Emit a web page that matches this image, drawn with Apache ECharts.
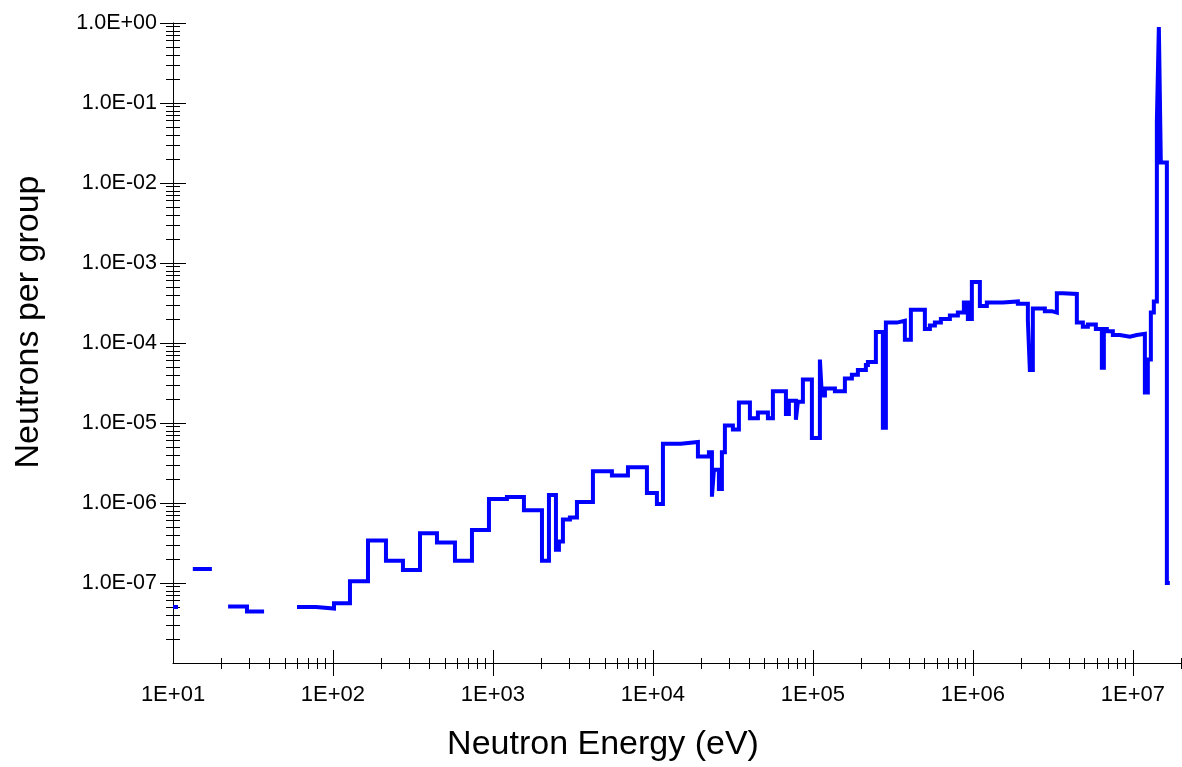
<!DOCTYPE html>
<html><head><meta charset="utf-8">
<script src="https://cdn.jsdelivr.net/npm/echarts@6/dist/echarts.min.js"></script>
<style>html,body{margin:0;padding:0;background:#fff}#chart{width:1182px;height:767px}</style>
</head><body><div id="chart"></div>
<script>
// Group boundaries (eV)
const energyBounds = [10, 10.75, 13.3, 17.5, 22.1, 29.0, 37.1, 59.6, 78.3, 101.5, 127.7, 165.5, 214.4, 273.8, 349.9, 446.7, 578.8, 739.3, 944, 1223, 1562, 2025, 2239, 2476, 2585, 2738, 3028, 3350, 4217, 5543, 6980, 9173, 10590, 11550, 14960, 19110, 22390, 23380, 24060, 25850, 26990, 28180, 31620, 34470, 40390, 45320, 52330, 56230, 67830, 70790, 78300, 80580, 86600, 98570, 110600, 113800, 118900, 137300, 158500, 175300, 191100, 214400, 220700, 247600, 273800, 285900, 335000, 375800, 409700, 501200, 538600, 578800, 631000, 718200, 805800, 878600, 930600, 985700, 1.106e6, 1.223e6, 1.540e6, 1.911e6, 2.207e6, 2.271e6, 2.371e6, 2.818e6, 3.117e6, 3.350e6, 3.652e6, 4.467e6, 4.870e6, 5.233e6, 5.871e6, 6.402e6, 6.589e6, 6.879e6, 7.499e6, 8.294e6, 9.578e6, 1.059e7, 1.189e7, 1.241e7, 1.296e7, 1.353e7, 1.413e7, 1.454e7, 1.496e7, 1.632e7, 1.703e7];
// Neutrons per group (null = empty group)
const neutronsPerGroup = [5.0e-8, null, 1.5e-7, null, 5.1e-8, 4.4e-8, null, 5.0e-8, 4.8e-8, 5.6e-8,
  1.05e-7, 3.4e-7, 1.9e-7, 1.45e-7, 4.2e-7, 3.2e-7, 1.9e-7, 4.6e-7, 1.12e-6, 1.19e-6,
  8.1e-7, 1.9e-7, 1.26e-6, 2.6e-7, 3.3e-7, 6.2e-7, 6.6e-7, 1.03e-6, 2.5e-6, 2.2e-6,
  2.8e-6, 1.33e-6, 9.7e-7, 5.5e-6, 5.8e-6, 3.8e-6, 4.3e-6, 1.2e-6, 2.6e-6, 1.5e-6,
  4.3e-6, 9.3e-6, 8.3e-6, 1.8e-5, 1.15e-5, 1.35e-5, 1.15e-5, 2.5e-5, 1.3e-5, 1.9e-5,
  1.1e-5, 1.85e-5, 3.5e-5, 6.5e-6, 6.2e-5, 2.2e-5, 2.7e-5, 2.5e-5, 3.6e-5, 4.0e-5,
  4.6e-5, 5.3e-5, 5.8e-5, 1.37e-4, 8.7e-6, 1.8e-4, 1.9e-4, 1.1e-4, 2.6e-4, 1.5e-4,
  1.65e-4, 1.8e-4, 2.0e-4, 2.2e-4, 2.4e-4, 3.2e-4, 2.0e-4, 5.8e-4, 2.9e-4, 3.2e-4,
  3.3e-4, 3.1e-4, 1.9e-4, 4.6e-5, 2.7e-4, 2.5e-4, 2.4e-4, 4.2e-4, 4.1e-4, 1.8e-4,
  1.6e-4, 1.7e-4, 1.5e-4, 4.9e-5, 1.5e-4, 1.4e-4, 1.26e-4, 1.2e-4, 1.26e-4, 1.3e-4,
  2.4e-5, 6.2e-5, 2.4e-4, 3.3e-4, 0.058, 0.89, 0.018, 1.0e-7];

// Tick / label values
const xLabelValues = [1e1, 1e2, 1e3, 1e4, 1e5, 1e6, 1e7];
const xMajorTicks = [1e2, 1e3, 1e4, 1e5, 1e6, 1e7];
const yLabelValues = [1e-7, 1e-6, 1e-5, 1e-4, 1e-3, 1e-2, 1e-1, 1e0];
const mantissas = [2, 3, 4, 5, 6, 7, 8, 9];
const xDecades = [1e1, 1e2, 1e3, 1e4, 1e5, 1e6];
const yDecades = [1e-8, 1e-7, 1e-6, 1e-5, 1e-4, 1e-3, 1e-2, 1e-1];

const xMinor = [];
xDecades.forEach(d => mantissas.forEach(m => xMinor.push(m * d)));
xMinor.push(2e7);
const yMinor = [];
yDecades.forEach(d => mantissas.forEach(m => yMinor.push(m * d)));

const seriesData = [];
for (let i = 0; i < neutronsPerGroup.length; i++) {
  const v = neutronsPerGroup[i];
  if (v == null) { seriesData.push([energyBounds[i], '-']); continue; }
  seriesData.push([energyBounds[i], v], [energyBounds[i + 1], v]);
}

function expStr(v) {
  const e = Math.round(Math.log10(v));
  return (e < 0 ? '-' : '+') + String(Math.abs(e)).padStart(2, '0');
}

const FONT = 'Liberation Sans, Arial, sans-serif';
const X_MIN = 10, X_MAX = 2e7, Y_MIN = 1e-8, Y_MAX = 1;

function baseX(extra) {
  return Object.assign({
    type: 'log', logBase: 10, min: X_MIN, max: X_MAX, position: 'bottom',
    axisLine: { show: false }, axisLabel: { show: false }, splitLine: { show: false },
    axisTick: { show: false }
  }, extra);
}
function baseY(extra) {
  return Object.assign({
    type: 'log', logBase: 10, min: Y_MIN, max: Y_MAX, position: 'left',
    axisLine: { show: false }, axisLabel: { show: false }, splitLine: { show: false },
    axisTick: { show: false }
  }, extra);
}
const tickStyle = { color: '#000', width: 1 };

const chart = echarts.init(document.getElementById('chart'), null, { renderer: 'canvas' });
chart.setOption({
  animation: false,
  backgroundColor: '#fff',
  grid: { left: 173, right: 1, top: 23, bottom: 104, containLabel: false, outerBoundsMode: 'none' },
  xAxis: [
    baseX({
      name: 'Neutron Energy (eV)', nameLocation: 'middle', nameGap: 65,
      nameTextStyle: { fontFamily: FONT, fontSize: 34, color: '#000', padding: [0, 148, 0, 0] },
      axisLine: { show: true, lineStyle: { color: '#000', width: 1 } },
      axisTick: { show: true, customValues: xMajorTicks, inside: false, length: 13, lineStyle: tickStyle },
      axisLabel: { show: true, customValues: xLabelValues, margin: 21, fontFamily: FONT, fontSize: 22, color: '#000',
        formatter: v => '1E' + expStr(v) }
    }),
    baseX({ axisTick: { show: true, customValues: xMajorTicks, inside: true, length: 13, lineStyle: tickStyle } }),
    baseX({ axisTick: { show: true, customValues: xMinor, inside: false, length: 6, lineStyle: tickStyle } }),
    baseX({ axisTick: { show: true, customValues: xMinor, inside: true, length: 5, lineStyle: tickStyle } })
  ],
  yAxis: [
    baseY({
      name: 'Neutrons per group', nameLocation: 'middle', nameGap: 127, nameRotate: 90,
      nameTextStyle: { fontFamily: FONT, fontSize: 34, color: '#000', padding: [0, 0, 0, 42] },
      axisLine: { show: true, lineStyle: { color: '#000', width: 1 } },
      axisTick: { show: true, customValues: yLabelValues, inside: false, length: 13, lineStyle: tickStyle },
      axisLabel: { show: true, customValues: yLabelValues, margin: 16, fontFamily: FONT, fontSize: 21.5, color: '#000',
        formatter: v => '1.0E' + expStr(v) }
    }),
    baseY({ axisTick: { show: true, customValues: yLabelValues, inside: true, length: 13, lineStyle: tickStyle } }),
    baseY({ axisTick: { show: true, customValues: yMinor, inside: false, length: 7, lineStyle: tickStyle } }),
    baseY({ axisTick: { show: true, customValues: yMinor, inside: true, length: 7, lineStyle: tickStyle } })
  ],
  series: [{
    type: 'line', xAxisIndex: 0, yAxisIndex: 0, data: seriesData,
    showSymbol: false, symbol: 'none', connectNulls: false,
    lineStyle: { color: '#0000ff', width: 4, join: 'miter' },
    itemStyle: { color: '#0000ff' }
  }]
});
</script>
</body></html>
